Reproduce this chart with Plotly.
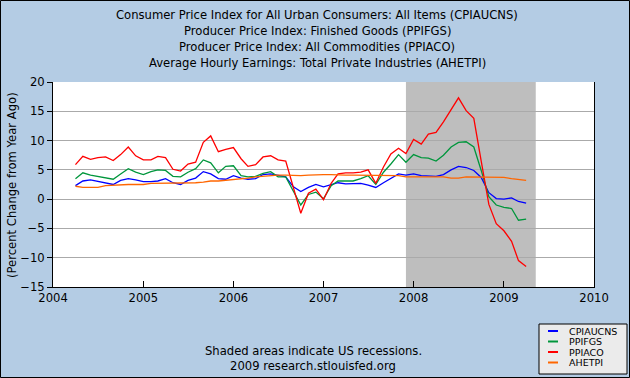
import pandas as pd
import plotly.graph_objects as go

dates = pd.date_range("2004-04-01", periods=61, freq="MS")

cpiaucns = [2.3, 3.1, 3.3, 3.0, 2.7, 2.5, 3.2, 3.5, 3.3,
            3.0, 3.0, 3.1, 3.5, 2.8, 2.5, 3.2, 3.6, 4.7, 4.3, 3.5, 3.4,
            4.0, 3.6, 3.4, 3.5, 4.2, 4.3, 4.1, 3.8, 2.1, 1.3, 2.0, 2.5,
            2.1, 2.4, 2.8, 2.6, 2.7, 2.7, 2.4, 2.0, 2.8, 3.5, 4.3, 4.1,
            4.3, 4.0, 4.0, 3.9, 4.2, 5.0, 5.6, 5.4, 4.9, 3.7, 1.1, 0.1,
            0.0, 0.2, -0.4, -0.7]

ppifgs = [3.5, 4.5, 4.1, 3.9, 3.6, 3.4, 4.3, 5.2, 4.6, 4.2, 4.7, 5.0,
          4.9, 3.9, 3.8, 4.6, 5.2, 6.7, 6.2, 4.5, 5.6, 5.7, 4.0, 3.8,
          3.9, 4.4, 4.7, 3.8, 3.8, 1.3, -1.0, 0.8, 1.2, 0.05, 2.3, 3.1,
          3.1, 3.1, 3.5, 4.0, 2.5, 4.6, 6.0, 7.6, 6.3, 7.6, 7.1, 7.0,
          6.5, 7.5, 8.9, 9.7, 9.8, 8.9, 4.9, 0.4, -1.0, -1.4, -1.6, -3.6, -3.4]

ppiaco = [5.9, 7.3, 6.8, 7.1, 7.2, 6.6, 7.6, 8.9, 7.4, 6.7, 6.7, 7.3,
          7.1, 5.1, 4.8, 6.0, 6.3, 9.7, 10.8, 8.1, 8.5, 8.8, 6.9, 5.6,
          5.9, 7.2, 7.4, 6.7, 6.5, 2.0, -2.4, 1.0, 1.7, -0.1, 2.7, 4.3,
          4.5, 4.5, 4.6, 5.0, 2.7, 5.5, 7.7, 8.7, 7.8, 10.2, 9.4, 11.1,
          11.4, 13.2, 15.2, 17.3, 15.1, 13.8, 6.5, -0.9, -4.2, -5.4, -7.2, -10.5, -11.5]

ahetpi = [2.2, 2.0, 2.0, 2.0, 2.3, 2.4, 2.5, 2.5, 2.5, 2.5, 2.7, 2.7,
          2.7, 2.7, 2.7, 2.8, 2.8, 2.9, 3.1, 3.1, 3.2, 3.3, 3.4, 3.6,
          3.8, 3.9, 4.1, 4.1, 4.1, 4.0, 4.0, 4.1, 4.2, 4.2, 4.2, 4.1,
          4.1, 4.1, 4.1, 4.1, 4.0, 4.0, 4.0, 4.0, 3.8, 3.8, 3.8, 3.9,
          3.9, 3.8, 3.6, 3.6, 3.8, 3.8, 3.8, 3.8, 3.8, 3.7, 3.5, 3.4, 3.2]

series_names = ["CPIAUCNS", "PPIFGS", "PPIACO", "AHETPI"]
series_values = [cpiaucns, ppifgs, ppiaco, ahetpi]
series_colors = ["#0000FF", "#00963C", "#FF0000", "#FF6600"]

title_lines = [
    "Consumer Price Index for All Urban Consumers: All Items (CPIAUCNS)",
    "Producer Price Index: Finished Goods (PPIFGS)",
    "Producer Price Index: All Commodities (PPIACO)",
    "Average Hourly Earnings: Total Private Industries (AHETPI)",
]
footnote_lines = ["Shaded areas indicate US recessions.", "2009 research.stlouisfed.org"]
recession = ("2007-12-01", "2009-05-10")
y_ticks = [-15, -10, -5, 0, 5, 10, 15, 20]
x_tick_years = [2004, 2005, 2006, 2007, 2008, 2009, 2010]

W, H = 630, 378
L, R, T, B = 53, 594, 82, 287
pw, ph = R - L, B - T


def px(x):
    return (x - L) / pw


def py(y):
    return (B - y) / ph


FONT = "DejaVu Sans"
FS = 11.6
fig = go.Figure()
for name, vals, col in zip(series_names, series_values, series_colors):
    fig.add_trace(go.Scatter(x=dates, y=vals, mode="lines", name=name,
                             line=dict(color=col, width=1.3), showlegend=False,
                             hoverinfo="skip"))

shapes = [
    dict(type="rect", xref="x", yref="paper", x0=recession[0], x1=recession[1],
         y0=0, y1=1, fillcolor="#BEBEBE", line=dict(width=0), layer="below"),
    # figure border
    dict(type="rect", xref="paper", yref="paper", x0=px(0.5), x1=px(W - 0.5),
         y0=py(H - 0.5), y1=py(0.5), line=dict(color="#000000", width=1)),
    # legend box
    dict(type="rect", xref="paper", yref="paper", x0=px(539), x1=px(627),
         y0=py(374), y1=py(324), fillcolor="#EBEBEB", line=dict(color="#000000", width=1)),
]
annotations = []
leg_y = [331, 341.5, 352, 362.5]
for name, col, yy in zip(series_names, series_colors, leg_y):
    shapes.append(dict(type="line", xref="paper", yref="paper", x0=px(548), x1=px(558),
                       y0=py(yy), y1=py(yy), line=dict(color=col, width=2)))
    annotations.append(dict(text=name, xref="paper", yref="paper", x=px(567), y=py(yy),
                            xanchor="left", yanchor="middle", showarrow=False,
                            font=dict(family=FONT, size=9.5, color="#000000")))

for i, t in enumerate(title_lines):
    annotations.append(dict(text=t, xref="paper", yref="paper", x=px(317), y=py(15 + 16 * i),
                            xanchor="center", yanchor="middle", showarrow=False,
                            font=dict(family=FONT, size=FS, color="#000000")))
for i, t in enumerate(footnote_lines):
    annotations.append(dict(text=t, xref="paper", yref="paper", x=px(313), y=py(351 + 14.5 * i),
                            xanchor="center", yanchor="middle", showarrow=False,
                            font=dict(family=FONT, size=FS, color="#000000")))
annotations.append(dict(text="(Percent Change from Year Ago)", xref="paper", yref="paper",
                        x=px(12), y=py(185), textangle=-90, xanchor="center", yanchor="middle",
                        showarrow=False, font=dict(family=FONT, size=FS, color="#000000")))

fig.update_layout(
    width=W, height=H,
    margin=dict(l=L, r=W - R, t=T, b=H - B, pad=0),
    paper_bgcolor="#B4CCE4", plot_bgcolor="#FFFFFF",
    shapes=shapes, annotations=annotations, showlegend=False,
    font=dict(family=FONT, size=FS, color="#000000"),
    hovermode=False,
)
fig.update_xaxes(
    type="date", range=["2004-01-01", "2010-01-01"],
    tickvals=[f"{y}-01-01" for y in x_tick_years], ticktext=[str(y) for y in x_tick_years],
    ticks="inside", ticklen=6, tickcolor="#000000", showgrid=False,
    showline=True, linecolor="#000000", linewidth=1, zeroline=False,
    tickfont=dict(family=FONT, size=FS),
)
fig.update_yaxes(
    range=[-15, 20], tickvals=y_ticks, ticks="outside", ticklen=5, tickcolor="#000000",
    showgrid=True, gridcolor="#AAAAAA", gridwidth=1, zeroline=False,
    showline=True, linecolor="#000000", linewidth=1, mirror=True,
    tickfont=dict(family=FONT, size=FS),
)
fig.write_html("out.html", config={"displayModeBar": False, "staticPlot": True},
               post_script="document.body.style.margin='0';document.body.style.overflow='hidden';")
